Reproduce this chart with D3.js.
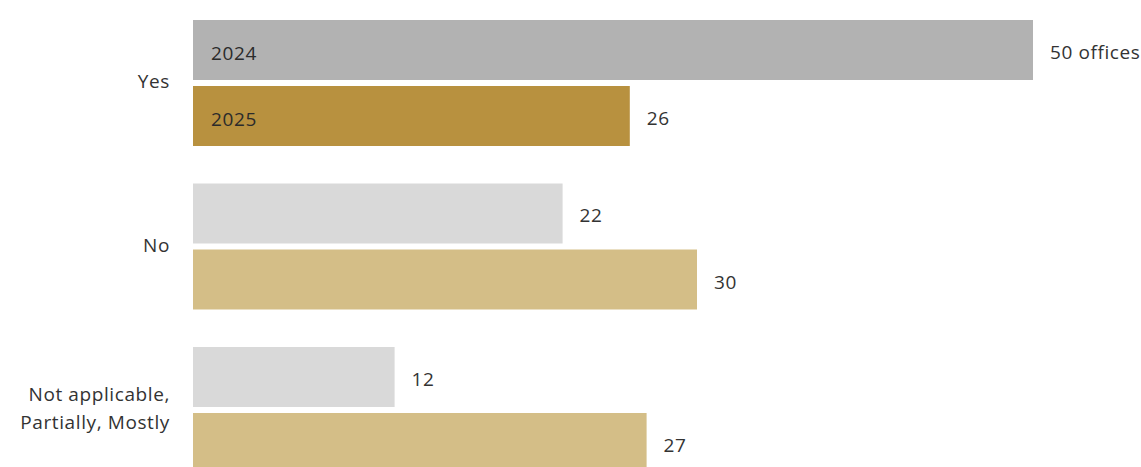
<!DOCTYPE html>
<html lang="en">
<head>
    <meta charset="UTF-8">
    <title>Offices by answer</title>
    <style>
        body {
            margin: 0;
            padding: 0;
            background-color: #fff;
            font-family: 'Open Sans', sans-serif;
        }
        .label, .value, .year {
            font-size: 19px;
            letter-spacing: 0.6px;
            fill: #333;
        }
        .year {
            fill: #2b2b2b;
        }
    </style>
</head>
<body>
    <div id="chart"></div>

    <script src="https://d3js.org/d3.v7.min.js"></script>
    <script>
        // categories and values per year
        const categories = ['Yes', 'No', 'Not applicable, Partially, Mostly'];
        const categoryLines = [['Yes'], ['No'], ['Not applicable,', 'Partially, Mostly']];
        const years = ['2024', '2025'];
        const values2024 = [50, 22, 12];
        const values2025 = [26, 30, 27];
        const valueLabels2024 = ['50 offices', '22', '12'];
        const valueLabels2025 = ['26', '30', '27'];

        const width = 1141;
        const height = 467;

        const svg = d3.select('#chart')
            .append('svg')
            .attr('width', width)
            .attr('height', height);

        const x = d3.scaleLinear()
            .domain([0, 50])
            .range([193, 1033]);

        const y = d3.scaleBand()
            .domain(categories)
            .range([20, 473])
            .paddingInner(0.2294)
            .paddingOuter(0);

        const ySub = d3.scaleBand()
            .domain(years)
            .range([0, y.bandwidth()])
            .paddingInner(0.091);

        // colours: first group is highlighted
        function barColor(i, year) {
            if (year === '2024') return i === 0 ? '#b2b2b2' : '#d9d9d9';
            return i === 0 ? '#b8913f' : '#d4be87';
        }

        const rows = [];
        categories.forEach((c, i) => {
            rows.push({ cat: c, i: i, year: '2024', value: values2024[i], label: valueLabels2024[i] });
            rows.push({ cat: c, i: i, year: '2025', value: values2025[i], label: valueLabels2025[i] });
        });

        const barMid = d => y(d.cat) + ySub(d.year) + ySub.bandwidth() / 2;

        const g = svg.append('g');

        g.selectAll('.bar')
            .data(rows)
            .enter()
            .append('rect')
            .attr('class', 'bar')
            .attr('x', x(0))
            .attr('y', d => y(d.cat) + ySub(d.year))
            .attr('width', d => x(d.value) - x(0))
            .attr('height', ySub.bandwidth())
            .attr('fill', d => barColor(d.i, d.year));

        g.selectAll('.value')
            .data(rows)
            .enter()
            .append('text')
            .attr('class', 'value')
            .attr('x', d => x(d.value) + 17)
            .attr('y', d => barMid(d) + 9)
            .text(d => d.label);

        // year names inside the first group's bars
        g.selectAll('.year')
            .data(rows.filter(d => d.i === 0))
            .enter()
            .append('text')
            .attr('class', 'year')
            .attr('x', x(0) + 18)
            .attr('y', d => barMid(d) + 10)
            .text(d => d.year);

        // category labels
        const lineH = 28;
        const labels = g.selectAll('.label')
            .data(categories)
            .enter()
            .append('text')
            .attr('class', 'label')
            .attr('text-anchor', 'end')
            .attr('x', 170)
            .attr('y', d => y(d) + y.bandwidth() / 2 + 7);

        labels.selectAll('tspan')
            .data((d, i) => categoryLines[i].map((t, k, arr) => ({ t: t, k: k, n: arr.length })))
            .enter()
            .append('tspan')
            .attr('x', 170)
            .attr('dy', d => d.k === 0 ? (-(d.n - 1) * lineH / 2 - 2) : lineH)
            .text(d => d.t);
    </script>
</body>
</html>
